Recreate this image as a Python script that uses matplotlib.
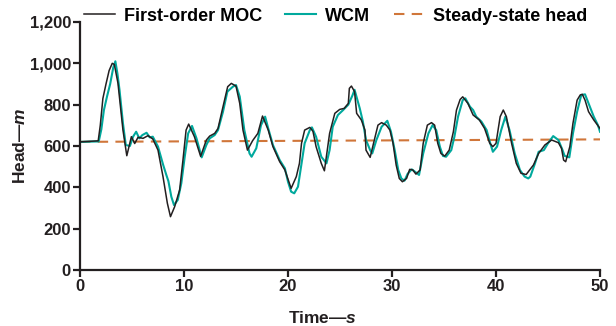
import matplotlib
matplotlib.use("Agg")
import matplotlib.pyplot as plt
from matplotlib.ticker import FuncFormatter

plt.rcParams['font.family'] = ['Liberation Sans', 'DejaVu Sans']
plt.rcParams['font.weight'] = 'bold'
plt.rcParams['mathtext.fontset'] = 'custom'
plt.rcParams['mathtext.it'] = 'Liberation Sans:italic:bold'
plt.rcParams['mathtext.rm'] = 'Liberation Sans:bold'

# first-order MOC head (black)
moc_t = [0, 1.75, 1.95, 2.2, 2.5, 2.8, 3.1, 3.3, 3.65, 4.13, 4.5, 4.94, 5.26, 5.58, 6.06,
         6.54, 7.0, 7.5, 7.98, 8.4, 8.7, 9.1, 9.58, 9.9, 10.2, 10.45, 11.0, 11.6, 12.15,
         12.47, 12.95, 13.27, 13.75, 14.2, 14.55, 15.0, 15.36, 15.67, 16.1, 16.6, 17.1,
         17.55, 18.1, 18.55, 19.2, 19.7, 20.3, 20.8, 21.1, 21.3, 21.6, 22.1, 22.4, 22.7,
         23.2, 23.5, 24.0, 24.5, 24.97, 25.4, 25.8, 25.9, 26.1, 26.4, 26.6, 27.05, 27.4,
         27.5, 27.9, 28.3, 28.65, 29.0, 29.45, 29.8, 30.1, 30.4, 30.7, 31.0, 31.4, 31.7,
         32.0, 32.3, 32.7, 33.0, 33.4, 33.8, 34.1, 34.4, 34.7, 35.07, 35.5, 35.9, 36.2,
         36.55, 36.8, 37.3, 37.8, 38.4, 38.9, 39.4, 39.7, 40.0, 40.4, 40.7, 41.0, 41.5,
         41.95, 42.4, 42.9, 43.6, 44.1, 44.7, 45.35, 46.0, 46.3, 46.5, 46.7, 47.1, 47.4,
         47.8, 48.1, 48.3, 48.56, 48.9, 49.4, 50.0]
moc_h = [620, 625, 700, 830, 900, 965, 1000, 995, 904, 677, 553, 645, 612, 642, 637,
         650, 634, 580, 452, 323, 258, 306, 387, 532, 677, 706, 645, 550, 629,
         648, 661, 685, 790, 887, 903, 890, 806, 677, 580, 626, 661,
         745, 677, 597, 524, 484, 395, 452, 516, 613, 677, 690, 671, 597,
         516, 480, 661, 758, 777, 782, 806, 879, 890, 863, 758, 726, 677,
         580, 545, 629, 701, 713, 701, 677, 613, 508, 443, 427, 443, 487,
         484, 464, 484, 613, 701, 713, 701, 613, 564, 551, 580, 669, 774,
         825, 838, 806, 750, 726, 685, 613, 597, 613, 742, 774, 742, 613,
         516, 468, 462, 508, 564, 605, 629, 616, 589, 532, 524, 597, 710,
         822, 847, 850, 822, 766, 726, 685]

# WCM head (teal)
wcm_t = [0, 1.8, 2.05, 2.3, 2.6, 2.9, 3.2, 3.4, 3.6, 3.8, 4.13, 4.4, 4.8, 5.1, 5.4, 5.7,
         6.0, 6.4, 6.7, 7.0, 7.5, 8.0, 8.3, 8.5, 8.78, 9.04, 9.4, 9.74, 10.07, 10.4, 10.77,
         11.2, 11.7, 12.15, 12.47, 12.95, 13.27, 13.75, 14.17, 14.7, 15.0, 15.36, 15.8,
         16.3, 16.5, 16.95, 17.4, 17.8, 18.1, 18.55, 19.2, 19.7, 20.0, 20.3, 20.6, 20.96,
         21.3, 21.6, 22.1, 22.3, 22.7, 23.2, 23.7, 24.0, 24.3, 24.8, 25.3, 25.8, 26.2,
         26.4, 26.9, 27.2, 27.5, 27.9, 28.1, 28.5, 29.0, 29.55, 29.9, 30.26, 30.6, 30.9,
         31.2, 31.5, 31.9, 32.2, 32.6, 33.0, 33.5, 33.9, 34.25, 34.6, 34.9, 35.2, 35.7,
         36.0, 36.35, 36.8, 37.05, 37.5, 37.8, 38.1, 38.6, 39.1, 39.4, 39.7, 40.1, 40.5,
         40.9, 41.3, 41.8, 42.3, 42.75, 43.1, 43.3, 43.75, 44.1, 44.6, 45.0, 45.5, 46.0,
         46.4, 46.6, 47.05, 47.4, 47.8, 48.2, 48.56, 48.9, 49.4, 49.8, 50.0]
wcm_h = [620, 622, 680, 774, 840, 900, 980, 1010, 950, 871, 710, 605, 600, 645, 669, 637,
         653, 664, 642, 645, 597, 508, 460, 430, 355, 314, 339, 419, 548, 661, 697,
         637, 545, 605, 637, 653, 677, 766, 863, 887, 895, 839, 677,
         564, 548, 589, 700, 742, 685, 605, 532, 492, 427, 379, 371, 403,
         516, 613, 677, 690, 645, 548, 516, 580, 693, 750, 774, 800, 845,
         872, 782, 718, 629, 580, 564, 629, 693, 722, 669, 580, 484, 443,
         432, 465, 487, 476, 460, 564, 661, 701, 677, 597, 552, 548, 580,
         645, 742, 822, 831, 790, 774, 742, 718, 677, 621, 572, 597, 677,
         742, 677, 564, 484, 452, 443, 452, 516, 572, 580, 613, 648, 629,
         580, 552, 545, 661, 766, 847, 850, 806, 742, 701, 669]

# steady-state head (dashed)
ss_t = [0, 50]
ss_h = [620, 632]

x_ticks = [0, 10, 20, 30, 40, 50]
y_ticks = [0, 200, 400, 600, 800, 1000, 1200]

dark = '#231f20'
fig = plt.figure(figsize=(6.16, 3.26), dpi=100)
ax = fig.add_axes([80 / 616, 1 - 270 / 326, 520 / 616, 248 / 326])

ax.plot(moc_t, moc_h, color=dark, lw=1.1, label='First-order MOC', zorder=3)
ax.plot(wcm_t, wcm_h, color='#00a99d', lw=1.5, label='WCM', zorder=2)
ax.plot(ss_t, ss_h, color='#d0763a', lw=1.5, dashes=(5, 3.5), label='Steady-state head', zorder=1)

ax.set_xlim(0, 50)
ax.set_ylim(0, 1200)
ax.set_xticks(x_ticks)
ax.set_yticks(y_ticks)
ax.yaxis.set_major_formatter(FuncFormatter(lambda v, p: f'{int(v):,}'))

for s in ['top', 'right']:
    ax.spines[s].set_visible(False)
for s in ['left', 'bottom']:
    ax.spines[s].set_linewidth(1.6)
    ax.spines[s].set_color(dark)
ax.tick_params(axis='both', length=5, width=1.6, color=dark, pad=1.5,
               labelsize=12, labelcolor=dark)
for lab in ax.get_xticklabels() + ax.get_yticklabels():
    lab.set_fontweight('bold')

ax.set_xlabel(r'Time—$\mathit{s}$', fontsize=12.5, fontweight='bold', color=dark)
ax.set_ylabel(r'Head—$\mathit{m}$', fontsize=12.5, fontweight='bold', color=dark)
ax.xaxis.set_label_coords(0.467, -0.163)
ax.yaxis.set_label_coords(-0.1, 0.5)

fig.legend(loc='center', bbox_to_anchor=(0.545, 0.95), ncol=3, frameon=False,
           prop={'size': 13, 'weight': 'bold'}, handlelength=1.7, handletextpad=0.5,
           columnspacing=1.3, borderpad=0)

fig.savefig('out.png', dpi=100)
